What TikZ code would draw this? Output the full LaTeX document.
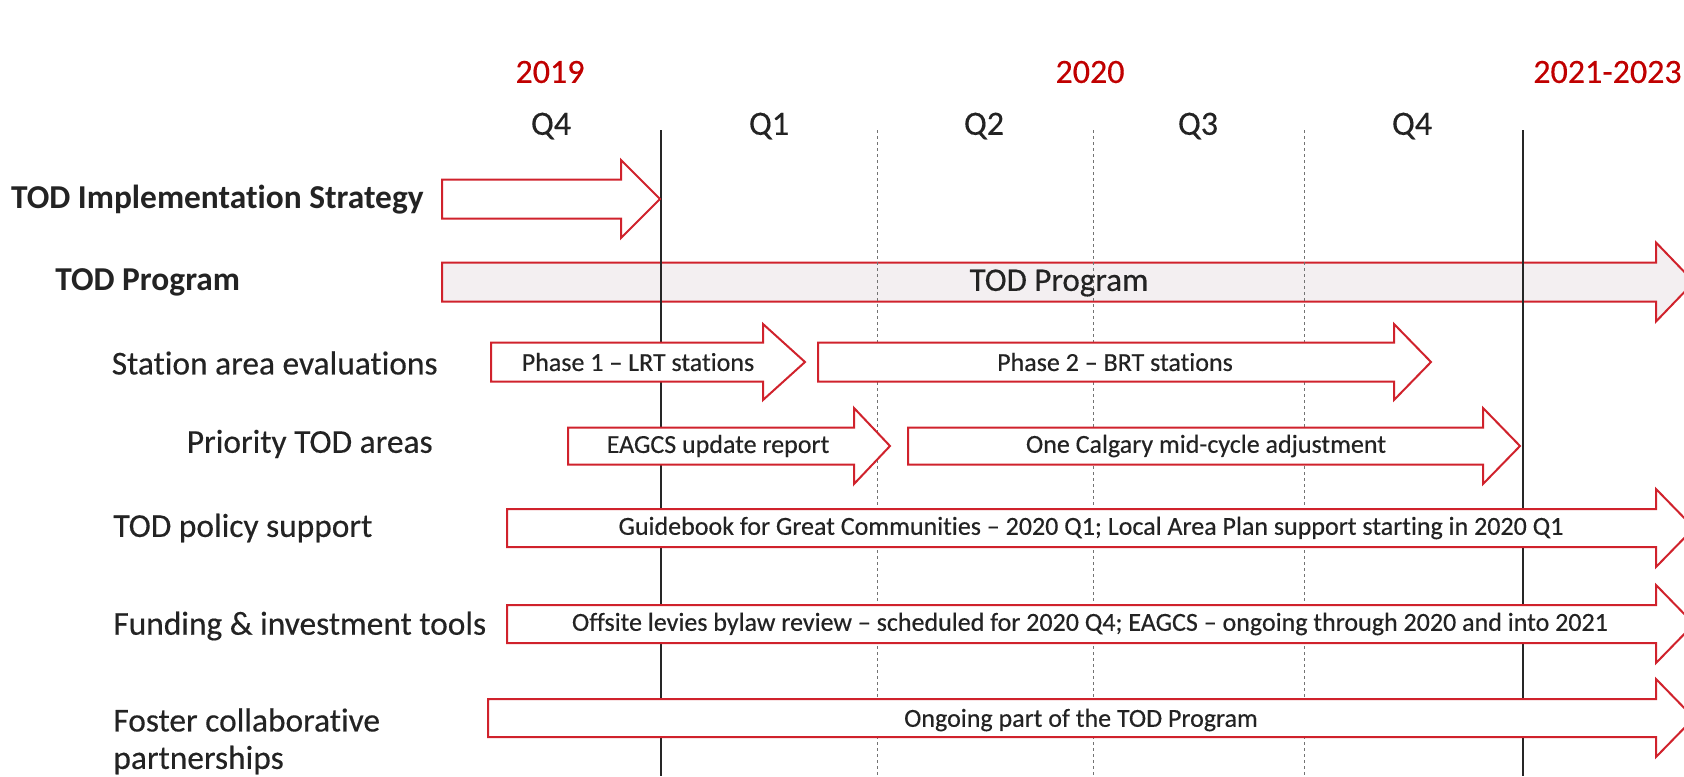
\documentclass[tikz,border=0pt]{standalone}
\usepackage{fontspec}
\setmainfont{Carlito}[Ligatures=NoCommon]
\newfontfamily\scanfont{Carlito}[Ligatures=NoCommon, FakeBold=0.35]
\definecolor{arrred}{RGB}{208,34,44}
\definecolor{yearred}{RGB}{192,0,0}
\definecolor{progfill}{RGB}{243,239,241}
\definecolor{txt}{RGB}{35,35,35}
\newcommand{\ganttarrow}[7][]{%
  \draw[bararrow,#1] (#2,#5-#6) -- (#3,#5-#6) -- (#3,#5-#7) -- (#4,#5) -- (#3,#5+#7) -- (#3,#5+#6) -- (#2,#5+#6) -- cycle;}
\begin{document}
\begin{tikzpicture}[x=0.5pt,y=-0.5pt,
  bararrow/.style={draw=arrred, line width=1pt, fill=white, line join=miter},
  year/.style={text=yearred, font=\scanfont\fontsize{17}{20}\selectfont, inner sep=0pt},
  quarter/.style={text=txt, font=\scanfont\fontsize{17}{20}\selectfont, inner sep=0pt},
  rowlabel/.style={text=txt, font=\scanfont\fontsize{16.7}{20}\selectfont, inner sep=0pt},
  rowbold/.style={text=txt, font=\fontsize{16.7}{20}\selectfont\bfseries, inner sep=0pt},
  bartext/.style={text=txt, font=\scanfont\fontsize{13}{15}\selectfont, inner sep=0pt},
  solidline/.style={draw=black!85, line width=0.75pt},
  dashline/.style={draw=black!55, line width=0.5pt, dash pattern=on 1.5pt off 1.5pt}]
\useasboundingbox (0,0) rectangle (1684,776);
\clip (0,0) rectangle (1684,776);
% header
\node[year] (y2019) at (550,72) {2019};
\node[year] (y2020) at (1090,72) {2020};
\node[year, anchor=east] (y2021) at (1682,72) {2021-2023};
\node[quarter] (q4a) at (551,126) {Q4};
\node[quarter] (q1) at (769,126) {Q1};
\node[quarter] (q2) at (984,126) {Q2};
\node[quarter] (q3) at (1198,126) {Q3};
\node[quarter] (q4b) at (1412,126) {Q4};
% TOD Program bar (lines show through)
\ganttarrow[fill=progfill]{442}{1656}{1694}{282}{19.5}{39.5}
% vertical lines
\draw[solidline] (661,130) -- (661,776);
\draw[solidline] (1523,130) -- (1523,776);
\draw[dashline] (877,130) -- (877,776);
\draw[dashline] (1093,130) -- (1093,776);
\draw[dashline] (1304,130) -- (1304,776);
% arrows
\ganttarrow{442}{621}{660}{199}{19.5}{39}
\ganttarrow{491}{763}{805}{362}{19.5}{38}
\ganttarrow{818}{1394}{1431}{362}{19.5}{38}
\ganttarrow{568}{854}{890}{446}{18.5}{38}
\ganttarrow{908}{1483}{1520}{446}{18.5}{38}
\ganttarrow{507}{1656}{1694}{528}{19}{39}
\ganttarrow{507}{1656}{1694}{624}{19}{39}
\ganttarrow{488}{1656}{1694}{718}{19}{39}
% row labels
\node[rowbold, anchor=east] (limpl) at (424,200) {TOD Implementation Strategy};
\node[rowbold, anchor=west] (lprog) at (55,282) {TOD Program};
\node[rowlabel, anchor=east] (lstat) at (438,363) {Station area evaluations};
\node[rowlabel, anchor=east] (lprio) at (433,444) {Priority TOD areas};
\node[rowlabel, anchor=west] (lpol) at (113,528) {TOD policy support};
\node[rowlabel, anchor=west] (lfund) at (113,626) {Funding \& investment tools};
\node[rowlabel, anchor=west] (lfos1) at (113,720) {Foster collaborative};
\node[rowlabel, anchor=west] (lfos2) at (113,760) {partnerships};
% bar texts
\node[text=txt, font=\scanfont\fontsize{16.5}{19}\selectfont, inner sep=0pt] (tprog) at (1059,283) {TOD Program};
\node[bartext] (tph1) at (638,362) {Phase 1 – LRT stations};
\node[bartext] (tph2) at (1115,362) {Phase 2 – BRT stations};
\node[bartext] (teag) at (718,446) {EAGCS update report};
\node[bartext] (tcal) at (1206,446) {One Calgary mid-cycle adjustment};
\node[bartext] (tpol) at (1091,528) {Guidebook for Great Communities – 2020 Q1; Local Area Plan support starting in 2020 Q1};
\node[bartext] (tfund) at (1090,624) {Offsite levies bylaw review – scheduled for 2020 Q4; EAGCS – ongoing through 2020 and into 2021};
\node[bartext] (tfos) at (1081,720) {Ongoing part of the TOD Program};
\end{tikzpicture}
\end{document}
